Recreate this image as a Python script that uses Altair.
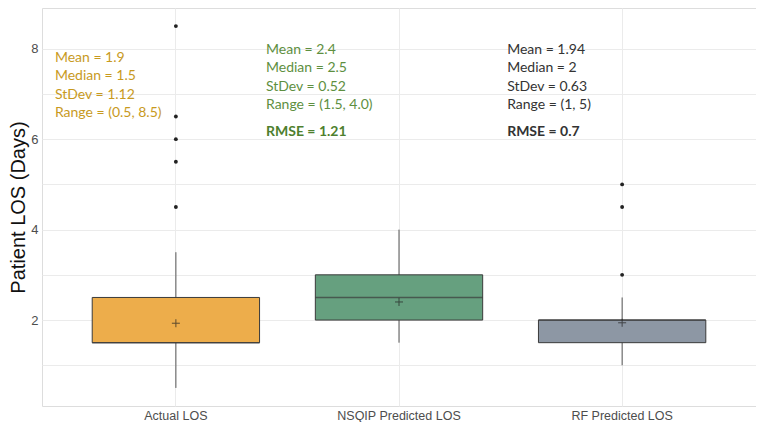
import altair as alt
import pandas as pd

# ---- data ----
groups = ["Actual LOS", "NSQIP Predicted LOS", "RF Predicted LOS"]
q1 = [1.5, 2.0, 1.5]
q3 = [2.5, 3.0, 2.0]
median = [1.5, 2.5, 2.0]
whisker_lo = [0.5, 1.5, 1.0]
whisker_hi = [3.5, 4.0, 2.5]
mean = [1.93, 2.4, 1.94]
box_colors = ["#EDAD4B", "#66A07F", "#8D97A4"]

outlier_group = ["Actual LOS"] * 5 + ["RF Predicted LOS"] * 3
outlier_value = [4.5, 5.5, 6.0, 6.5, 8.5, 3.0, 4.5, 5.0]

stats_text = [
    "Mean = 1.9\nMedian = 1.5\nStDev = 1.12\nRange = (0.5, 8.5)",
    "Mean = 2.4\nMedian = 2.5\nStDev = 0.52\nRange = (1.5, 4.0)",
    "Mean = 1.94\nMedian = 2\nStDev = 0.63\nRange = (1, 5)",
]
rmse_text = ["", "RMSE = 1.21", "RMSE = 0.7"]
text_colors = ["#C89A1E", "#5E8F3F", "#333333"]
rmse_colors = ["#C89A1E", "#4E7F2E", "#333333"]
stats_y = [7.96, 8.13, 8.13]
rmse_y = 6.15
text_dx = [-121, -133, -115]

box = pd.DataFrame(dict(group=groups, q1=q1, q3=q3, median=median,
                        lo=whisker_lo, hi=whisker_hi, mean=mean))
outl = pd.DataFrame(dict(group=outlier_group, value=outlier_value))

W, H = 714, 398
step = W / 3.2
bandw = step * 0.75

x = alt.X("group:N", sort=groups, title=None,
          scale=alt.Scale(paddingInner=0.25, paddingOuter=0.225),
          axis=alt.Axis(labelAngle=0, ticks=False, domain=False, grid=True,
                        gridColor="#EBEBEB", labelColor="#4D4D4D",
                        labelFont="Liberation Sans", labelFontSize=12.5,
                        labelPadding=3, bandPosition=0.5))
yscale = alt.Scale(domain=[0.1, 8.9], nice=False, zero=False)
yaxis = alt.Axis(values=[1, 2, 3, 4, 5, 6, 7, 8], ticks=False, domain=False,
                 gridColor="#EBEBEB", labelColor="#4D4D4D",
                 labelFont="Liberation Sans", labelFontSize=13, labelPadding=4,
                 labelExpr="datum.value % 2 == 0 ? datum.label : ''",
                 title="Patient LOS (Days)", titleFont="Liberation Sans",
                 titleFontSize=20, titleFontWeight="normal", titleColor="#111111",
                 titlePadding=2)

color = alt.Color("group:N", scale=alt.Scale(domain=groups, range=box_colors),
                  legend=None)

whisk = alt.Chart(box).mark_rule(color="#555555", strokeWidth=1).encode(
    x=x, y=alt.Y("lo:Q", scale=yscale, axis=yaxis), y2="hi:Q")

bars = alt.Chart(box).mark_bar(size=bandw, stroke="#3A3A3A", strokeWidth=1,
                               opacity=1).encode(
    x=x, y=alt.Y("q1:Q", scale=yscale), y2="q3:Q", color=color)

med = alt.Chart(box).mark_tick(size=bandw, thickness=1.6, color="#3A3A3A").encode(
    x=x, y=alt.Y("median:Q", scale=yscale))

means = alt.Chart(box).mark_point(shape="M -1 0 L 1 0 M 0 -1 L 0 1", size=64,
                                  filled=False, stroke="#222222",
                                  strokeWidth=1).encode(
    x=x, y=alt.Y("mean:Q", scale=yscale))

pts = alt.Chart(outl).mark_circle(size=15, color="#222222", opacity=1).encode(
    x=x, y=alt.Y("value:Q", scale=yscale))

layers = [whisk, bars, med, means, pts]

for i, g in enumerate(groups):
    sdf = pd.DataFrame(dict(group=[g], txt=[stats_text[i]], y=[stats_y[i]]))
    layers.append(alt.Chart(sdf).mark_text(
        align="left", baseline="top", dx=text_dx[i], font="Lato",
        fontSize=14, lineBreak="\n", lineHeight=18.5, color=text_colors[i]
    ).encode(x=x, y=alt.Y("y:Q", scale=yscale), text="txt:N"))
    if rmse_text[i]:
        rdf = pd.DataFrame(dict(group=[g], txt=[rmse_text[i]], y=[rmse_y]))
        layers.append(alt.Chart(rdf).mark_text(
            align="left", baseline="middle", dx=text_dx[i], font="Lato",
            fontSize=14, fontWeight="bold", color=rmse_colors[i]
        ).encode(x=x, y=alt.Y("y:Q", scale=yscale), text="txt:N"))

chart = alt.layer(*layers).properties(
    width=W, height=H, padding=0
).configure_view(
    stroke="#D9D9D9", strokeWidth=1
).configure(background="white")

chart.save("out.html", embed_options={"renderer": "svg", "actions": False})
